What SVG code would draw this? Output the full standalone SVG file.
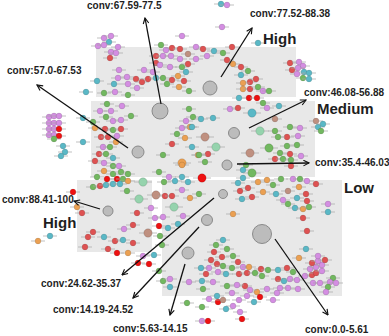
<svg xmlns="http://www.w3.org/2000/svg" xmlns:xlink="http://www.w3.org/1999/xlink" width="389" height="336" viewBox="0 0 389 336">
<style>
.reg{fill:#e8e8e8}
.p{fill:#d48ee2}.r{fill:#de5252}.g{fill:#72b860}.t{fill:#5ab8c6}.o{fill:#eba052}.b{fill:#bf9080}.x{fill:#ee1111}.lg{fill:#95d3ad}
.hub{fill:#bcbcbc;stroke:#8a8a8a;stroke-width:1}
.lab{font-family:"Liberation Sans",Arial,sans-serif;font-weight:bold;font-size:10px;fill:#1e1e1e}
.big{font-family:"Liberation Sans",Arial,sans-serif;font-weight:bold;font-size:15px;fill:#1e1e1e}
.arr{stroke:#111;stroke-width:1.3;fill:none;marker-end:url(#ah)}
</style>
<defs>
<marker id="ah" viewBox="0 0 10 10" refX="9" refY="5" markerWidth="7" markerHeight="7" orient="auto" markerUnits="userSpaceOnUse">
<path d="M1,1 L9,5 L1,9" fill="none" stroke="#111" stroke-width="1.6"/>
</marker>
<g id="d"><line x1="-7" y1="0" x2="7" y2="0" stroke="#a8a8a8" stroke-width="0.7"/><circle r="2.9" stroke="#000" stroke-opacity="0.2" stroke-width="0.6"/></g>
<g id="D"><line x1="-9" y1="0" x2="9" y2="0" stroke="#a8a8a8" stroke-width="0.7"/><circle r="4.2" stroke="#000" stroke-opacity="0.2" stroke-width="0.6"/></g>
</defs>
<rect width="389" height="336" fill="#fff"/>
<g id="regions">
<rect class="reg" x="96" y="47" width="200" height="50"/>
<rect class="reg" x="91" y="101" width="224" height="76"/>
<rect class="reg" x="77" y="180" width="75" height="72"/>
<rect class="reg" x="162" y="180" width="180" height="116"/>
</g>
<g id="nodes-high">
<use href="#d" class="p" x="104" y="38"/><use href="#d" class="p" x="111" y="36"/><use href="#d" class="t" x="109" y="42"/><use href="#d" class="p" x="98" y="46"/><use href="#d" class="p" x="104" y="45"/><use href="#d" class="p" x="118" y="47"/><use href="#d" class="p" x="111" y="52"/><use href="#d" class="p" x="116" y="53"/><use href="#d" class="r" x="110" y="58"/>
<use href="#d" class="p" x="119" y="70"/><use href="#d" class="p" x="118" y="78"/><use href="#d" class="t" x="114" y="84"/><use href="#d" class="p" x="127" y="77"/><use href="#d" class="p" x="128" y="84"/><use href="#d" class="r" x="136" y="79"/><use href="#d" class="p" x="137" y="88"/><use href="#d" class="p" x="115" y="92"/><use href="#d" class="g" x="128" y="95"/><use href="#d" class="g" x="104" y="93"/><use href="#d" class="t" x="97" y="81"/><use href="#d" class="t" x="86" y="92"/>
<use href="#d" class="p" x="144" y="70"/><use href="#d" class="p" x="153" y="72"/><use href="#d" class="r" x="156" y="63"/><use href="#d" class="r" x="156" y="56"/><use href="#d" class="p" x="163" y="56"/><use href="#d" class="p" x="166" y="50"/><use href="#d" class="r" x="172" y="48"/><use href="#d" class="r" x="180" y="49"/><use href="#d" class="p" x="171" y="56"/><use href="#d" class="p" x="180" y="59"/><use href="#d" class="b" x="188" y="54"/><use href="#d" class="g" x="182" y="67"/><use href="#d" class="r" x="188" y="64"/><use href="#d" class="p" x="170" y="67"/><use href="#d" class="p" x="160" y="65"/><use href="#d" class="g" x="161" y="45"/><use href="#d" class="p" x="182" y="36"/>
<use href="#d" class="r" x="142" y="82"/><use href="#d" class="r" x="148" y="79"/><use href="#d" class="t" x="156" y="78"/><use href="#d" class="g" x="163" y="78"/><use href="#d" class="r" x="172" y="80"/><use href="#d" class="o" x="178" y="76"/><use href="#d" class="r" x="184" y="81"/><use href="#d" class="g" x="167" y="84"/><use href="#d" class="o" x="179" y="87"/><use href="#d" class="t" x="186" y="72"/><use href="#d" class="g" x="189" y="91"/>
<use href="#d" class="p" x="196" y="47"/><use href="#d" class="r" x="203" y="49"/><use href="#d" class="t" x="214" y="51"/><use href="#d" class="g" x="223" y="53"/><use href="#d" class="r" x="232" y="47"/><use href="#d" class="p" x="196" y="59"/><use href="#d" class="p" x="207" y="56"/><use href="#d" class="r" x="227" y="60"/><use href="#d" class="o" x="233" y="64"/><use href="#d" class="r" x="241" y="67"/><use href="#d" class="g" x="248" y="71"/><use href="#d" class="t" x="241" y="75"/><use href="#d" class="r" x="250" y="82"/><use href="#d" class="r" x="256" y="79"/><use href="#d" class="o" x="243" y="83"/><use href="#d" class="o" x="243" y="89"/><use href="#d" class="r" x="250" y="89"/><use href="#d" class="g" x="258" y="87"/><use href="#d" class="p" x="263" y="91"/><use href="#d" class="g" x="269" y="91"/><use href="#d" class="t" x="239" y="98"/><use href="#d" class="x" x="249" y="98"/><use href="#d" class="x" x="257" y="98"/><use href="#d" class="g" x="263" y="103"/>
<use href="#d" class="t" x="221" y="4"/><use href="#d" class="p" x="227" y="5"/><use href="#d" class="p" x="222" y="27"/><use href="#d" class="t" x="258" y="43"/>
<use href="#d" class="r" x="290" y="63"/><use href="#d" class="p" x="299" y="62"/><use href="#d" class="p" x="303" y="66"/><use href="#d" class="r" x="292" y="70"/><use href="#d" class="p" x="298" y="68"/><use href="#d" class="t" x="304" y="72"/><use href="#d" class="t" x="309" y="73"/><use href="#d" class="p" x="297" y="74"/><use href="#d" class="g" x="303" y="78"/><use href="#d" class="t" x="309" y="79"/>
</g>
<g id="nodes-medium">
<use href="#d" class="p" x="49" y="117"/><use href="#d" class="p" x="54" y="116"/><use href="#d" class="p" x="59" y="116"/><use href="#d" class="p" x="49" y="123"/><use href="#d" class="p" x="54" y="123"/><use href="#d" class="p" x="59" y="123"/><use href="#d" class="p" x="49" y="129"/><use href="#d" class="p" x="54" y="129"/><use href="#d" class="x" x="59" y="129"/><use href="#d" class="p" x="49" y="135"/><use href="#d" class="p" x="54" y="135"/><use href="#d" class="x" x="59" y="136"/><use href="#d" class="g" x="54" y="139"/><use href="#d" class="t" x="63" y="146"/><use href="#d" class="t" x="65" y="152"/><use href="#d" class="t" x="61" y="156"/>
<use href="#d" class="g" x="107" y="104"/><use href="#d" class="p" x="111" y="111"/><use href="#d" class="p" x="122" y="106"/><use href="#d" class="p" x="100" y="111"/><use href="#d" class="g" x="106" y="117"/><use href="#d" class="p" x="113" y="121"/><use href="#d" class="p" x="121" y="120"/><use href="#d" class="g" x="131" y="116"/><use href="#d" class="g" x="93" y="122"/><use href="#d" class="o" x="95" y="128"/><use href="#d" class="r" x="105" y="129"/><use href="#d" class="g" x="113" y="130"/><use href="#d" class="r" x="121" y="129"/><use href="#d" class="r" x="101" y="137"/><use href="#d" class="r" x="108" y="137"/><use href="#d" class="p" x="117" y="136"/><use href="#d" class="p" x="103" y="147"/><use href="#d" class="g" x="110" y="147"/><use href="#d" class="o" x="116" y="142"/><use href="#d" class="r" x="99" y="154"/><use href="#d" class="g" x="106" y="154"/><use href="#d" class="t" x="113" y="158"/><use href="#d" class="r" x="95" y="161"/><use href="#d" class="p" x="104" y="163"/><use href="#d" class="g" x="113" y="166"/><use href="#d" class="p" x="119" y="166"/><use href="#d" class="t" x="83" y="118"/><use href="#d" class="t" x="83" y="142"/>
<use href="#d" class="g" x="189" y="109"/><use href="#d" class="g" x="193" y="117"/><use href="#d" class="p" x="186" y="121"/><use href="#d" class="p" x="182" y="128"/><use href="#d" class="o" x="190" y="127"/><use href="#d" class="g" x="177" y="134"/><use href="#d" class="o" x="185" y="138"/><use href="#d" class="r" x="172" y="144"/><use href="#d" class="t" x="192" y="147"/><use href="#d" class="g" x="163" y="155"/><use href="#d" class="o" x="198" y="155"/><use href="#D" class="o" x="182" y="163"/><use href="#D" class="b" x="205" y="137"/><use href="#d" class="t" x="201" y="119"/><use href="#d" class="t" x="213" y="118"/><use href="#d" class="r" x="208" y="154"/><use href="#d" class="g" x="205" y="162"/><use href="#D" class="lg" x="216" y="147"/><use href="#d" class="g" x="159" y="172"/>
<use href="#d" class="p" x="230" y="109"/><use href="#d" class="r" x="238" y="108"/><use href="#D" class="t" x="252" y="113"/><use href="#d" class="p" x="267" y="108"/><use href="#d" class="t" x="279" y="106"/><use href="#D" class="lg" x="260" y="131"/><use href="#d" class="g" x="275" y="131"/><use href="#d" class="b" x="275" y="119"/><use href="#d" class="g" x="290" y="127"/><use href="#d" class="p" x="300" y="128"/><use href="#d" class="p" x="298" y="136"/><use href="#d" class="r" x="287" y="137"/><use href="#d" class="g" x="278" y="137"/><use href="#D" class="g" x="269" y="148"/><use href="#d" class="g" x="287" y="146"/><use href="#d" class="g" x="297" y="145"/><use href="#d" class="g" x="280" y="153"/><use href="#d" class="r" x="290" y="154"/><use href="#d" class="p" x="301" y="156"/><use href="#D" class="b" x="250" y="153"/><use href="#d" class="r" x="275" y="159"/><use href="#d" class="g" x="283" y="159"/><use href="#d" class="g" x="291" y="160"/><use href="#d" class="r" x="291" y="166"/><use href="#d" class="g" x="246" y="165"/><use href="#d" class="b" x="316" y="121"/><use href="#d" class="t" x="318" y="127"/><use href="#d" class="t" x="323" y="124"/><use href="#d" class="g" x="321" y="131"/><use href="#d" class="t" x="192" y="127"/>
</g>
<g id="nodes-left-high">
<use href="#d" class="g" x="97" y="177"/><use href="#d" class="o" x="104" y="171"/><use href="#d" class="g" x="113" y="174"/><use href="#d" class="g" x="121" y="172"/><use href="#d" class="g" x="128" y="174"/><use href="#d" class="x" x="107" y="179"/><use href="#d" class="x" x="117" y="179"/><use href="#d" class="g" x="123" y="179"/><use href="#d" class="o" x="128" y="181"/>
<use href="#d" class="g" x="93" y="187"/><use href="#d" class="r" x="100" y="186"/><use href="#d" class="t" x="106" y="185"/><use href="#d" class="t" x="113" y="184"/><use href="#d" class="t" x="120" y="184"/><use href="#d" class="g" x="127" y="191"/><use href="#d" class="x" x="73" y="192"/><use href="#d" class="o" x="77" y="207"/><use href="#d" class="r" x="82" y="213"/>
<use href="#d" class="r" x="93" y="232"/><use href="#d" class="r" x="88" y="237"/><use href="#d" class="t" x="104" y="237"/><use href="#d" class="r" x="115" y="241"/><use href="#d" class="t" x="123" y="240"/><use href="#d" class="r" x="133" y="243"/><use href="#d" class="r" x="85" y="247"/><use href="#d" class="r" x="108" y="249"/><use href="#d" class="x" x="117" y="253"/><use href="#d" class="o" x="128" y="253"/><use href="#d" class="p" x="124" y="229"/><use href="#d" class="r" x="133" y="225"/><use href="#d" class="r" x="137" y="213"/><use href="#D" class="b" x="148" y="233"/><use href="#D" class="lg" x="139" y="199"/><use href="#d" class="p" x="151" y="208"/><use href="#d" class="p" x="155" y="218"/><use href="#d" class="p" x="163" y="217"/><use href="#d" class="x" x="159" y="226"/><use href="#d" class="g" x="160" y="236"/><use href="#d" class="g" x="162" y="245"/><use href="#d" class="p" x="143" y="256"/><use href="#d" class="t" x="154" y="255"/><use href="#d" class="x" x="138" y="263"/><use href="#d" class="x" x="149" y="264"/><use href="#d" class="t" x="50" y="236"/><use href="#d" class="o" x="38" y="241"/>
</g>
<g id="nodes-low">
<use href="#D" class="lg" x="143" y="182"/><use href="#d" class="g" x="164" y="182"/><use href="#d" class="p" x="169" y="177"/><use href="#d" class="t" x="175" y="181"/><use href="#d" class="t" x="182" y="177"/><use href="#d" class="t" x="188" y="182"/><use href="#d" class="o" x="182" y="165"/><use href="#D" class="b" x="156" y="195"/><use href="#d" class="r" x="165" y="196"/><use href="#d" class="r" x="172" y="196"/><use href="#d" class="p" x="182" y="190"/><use href="#d" class="o" x="190" y="198"/><use href="#D" class="lg" x="174" y="207"/><use href="#d" class="p" x="183" y="216"/><use href="#d" class="t" x="178" y="224"/><use href="#d" class="t" x="168" y="228"/><use href="#D" class="x" x="202" y="178"/><use href="#d" class="g" x="199" y="194"/><use href="#d" class="g" x="199" y="155"/>
<use href="#d" class="t" x="243" y="170"/><use href="#D" class="g" x="252" y="173"/><use href="#d" class="t" x="243" y="178"/><use href="#d" class="o" x="258" y="182"/><use href="#d" class="o" x="267" y="180"/><use href="#d" class="g" x="273" y="185"/><use href="#d" class="g" x="281" y="179"/><use href="#d" class="p" x="293" y="179"/><use href="#d" class="g" x="300" y="179"/><use href="#d" class="p" x="307" y="181"/><use href="#d" class="r" x="316" y="184"/><use href="#d" class="t" x="238" y="183"/><use href="#d" class="r" x="248" y="188"/><use href="#d" class="r" x="240" y="191"/><use href="#d" class="o" x="263" y="192"/><use href="#d" class="t" x="276" y="194"/><use href="#d" class="b" x="288" y="191"/><use href="#d" class="o" x="299" y="187"/><use href="#d" class="r" x="306" y="194"/><use href="#d" class="p" x="283" y="200"/><use href="#d" class="g" x="288" y="204"/><use href="#d" class="t" x="295" y="208"/><use href="#d" class="o" x="303" y="209"/><use href="#d" class="g" x="309" y="207"/><use href="#d" class="t" x="297" y="198"/><use href="#d" class="r" x="307" y="201"/><use href="#d" class="p" x="328" y="204"/><use href="#d" class="t" x="328" y="212"/><use href="#d" class="t" x="242" y="199"/><use href="#d" class="r" x="252" y="197"/><use href="#d" class="o" x="233" y="214"/><use href="#d" class="r" x="303" y="218"/><use href="#d" class="r" x="307" y="231"/><use href="#d" class="t" x="306" y="249"/><use href="#d" class="o" x="299" y="258"/>
<use href="#d" class="t" x="223" y="240"/><use href="#d" class="g" x="216" y="245"/><use href="#d" class="g" x="227" y="249"/><use href="#d" class="r" x="214" y="252"/><use href="#d" class="r" x="222" y="257"/><use href="#d" class="g" x="233" y="256"/><use href="#d" class="r" x="211" y="260"/><use href="#d" class="r" x="217" y="264"/><use href="#d" class="g" x="223" y="266"/><use href="#d" class="g" x="232" y="268"/><use href="#d" class="r" x="238" y="262"/><use href="#d" class="p" x="243" y="267"/><use href="#d" class="o" x="249" y="267"/><use href="#d" class="p" x="209" y="268"/><use href="#d" class="t" x="201" y="268"/><use href="#d" class="r" x="206" y="274"/><use href="#d" class="p" x="218" y="272"/><use href="#d" class="t" x="226" y="274"/><use href="#d" class="r" x="239" y="274"/><use href="#d" class="r" x="247" y="273"/><use href="#d" class="g" x="255" y="273"/><use href="#d" class="r" x="261" y="269"/><use href="#d" class="g" x="268" y="270"/><use href="#d" class="t" x="278" y="270"/><use href="#d" class="r" x="287" y="268"/><use href="#d" class="g" x="293" y="272"/><use href="#d" class="g" x="262" y="276"/><use href="#d" class="r" x="278" y="279"/><use href="#d" class="t" x="284" y="281"/><use href="#d" class="p" x="290" y="279"/><use href="#d" class="p" x="297" y="280"/><use href="#d" class="p" x="305" y="276"/><use href="#d" class="r" x="312" y="275"/><use href="#d" class="r" x="316" y="273"/><use href="#d" class="p" x="322" y="271"/><use href="#d" class="p" x="310" y="269"/><use href="#d" class="p" x="316" y="267"/><use href="#d" class="p" x="322" y="265"/><use href="#d" class="r" x="312" y="263"/><use href="#d" class="p" x="318" y="261"/><use href="#d" class="r" x="325" y="260"/><use href="#d" class="p" x="318" y="256"/><use href="#d" class="g" x="333" y="278"/><use href="#d" class="p" x="330" y="282"/><use href="#d" class="p" x="336" y="283"/><use href="#d" class="p" x="313" y="283"/><use href="#d" class="p" x="320" y="283"/><use href="#d" class="g" x="328" y="287"/><use href="#d" class="p" x="326" y="292"/><use href="#d" class="p" x="298" y="289"/><use href="#d" class="p" x="288" y="288"/><use href="#d" class="p" x="280" y="288"/><use href="#d" class="p" x="277" y="293"/><use href="#d" class="p" x="267" y="289"/><use href="#d" class="o" x="257" y="292"/><use href="#d" class="p" x="250" y="290"/><use href="#d" class="r" x="245" y="286"/><use href="#d" class="p" x="237" y="285"/><use href="#d" class="g" x="227" y="286"/><use href="#d" class="p" x="213" y="282"/><use href="#d" class="t" x="202" y="281"/><use href="#d" class="g" x="203" y="289"/><use href="#d" class="p" x="232" y="293"/><use href="#d" class="p" x="247" y="296"/><use href="#d" class="x" x="260" y="297"/>
<use href="#d" class="t" x="217" y="296"/><use href="#d" class="p" x="209" y="299"/><use href="#d" class="x" x="218" y="302"/><use href="#d" class="b" x="223" y="300"/><use href="#d" class="p" x="239" y="300"/><use href="#d" class="t" x="254" y="302"/><use href="#d" class="p" x="273" y="300"/><use href="#d" class="p" x="233" y="306"/><use href="#d" class="t" x="226" y="309"/><use href="#d" class="g" x="202" y="307"/><use href="#d" class="p" x="240" y="312"/><use href="#d" class="p" x="202" y="321"/><use href="#d" class="x" x="208" y="321"/><use href="#d" class="x" x="242" y="319"/>
<use href="#d" class="g" x="159" y="271"/><use href="#d" class="g" x="163" y="281"/><use href="#d" class="p" x="170" y="279"/><use href="#d" class="t" x="170" y="287"/><use href="#d" class="p" x="189" y="282"/><use href="#d" class="g" x="187" y="303"/>
</g>
<g id="hub-67-59"><circle class="hub" cx="160" cy="111" r="8"/></g>
<g id="hub-77-52"><circle class="hub" cx="210" cy="88" r="7"/></g>
<g id="hub-57-0"><circle class="hub" cx="138" cy="152" r="6"/></g>
<g id="hub-46-08"><circle class="hub" cx="234" cy="133" r="5.5"/></g>
<g id="hub-35-4"><circle class="hub" cx="227" cy="165" r="5"/></g>
<g id="hub-88-41"><circle class="hub" cx="108" cy="211" r="5"/></g>
<g id="hub-24-62"><circle class="hub" cx="223" cy="194" r="4.5"/></g>
<g id="hub-14-19"><circle class="hub" cx="207" cy="220" r="5.5"/></g>
<g id="hub-5-63"><circle class="hub" cx="188" cy="253" r="6"/></g>
<g id="hub-0-0"><circle class="hub" cx="262" cy="234" r="9.5"/></g>
<g id="connectors">
<line class="arr" x1="161" y1="104" x2="145" y2="18"/>
<line class="arr" x1="221" y1="77" x2="252" y2="28"/>
<line class="arr" x1="128" y1="148" x2="37" y2="85"/>
<line class="arr" x1="249" y1="128" x2="306" y2="100"/>
<line class="arr" x1="237" y1="164" x2="309" y2="163"/>
<line class="arr" x1="100" y1="209" x2="74" y2="201"/>
<line class="arr" x1="214" y1="198" x2="122" y2="275"/>
<line class="arr" x1="199" y1="227" x2="133" y2="298"/>
<line class="arr" x1="185" y1="264" x2="170" y2="315"/>
<line class="arr" x1="275" y1="239" x2="328" y2="315"/>
</g>
<g id="labels">
<text class="lab" x="87" y="9">conv:67.59-77.5</text>
<text class="lab" x="250" y="17">conv:77.52-88.38</text>
<text class="lab" x="7" y="74">conv:57.0-67.53</text>
<text class="lab" x="304" y="96">conv:46.08-56.88</text>
<text class="lab" x="315" y="166">conv:35.4-46.03</text>
<text class="lab" x="2" y="203">conv:88.41-100</text>
<text class="lab" x="41" y="287">conv:24.62-35.37</text>
<text class="lab" x="53" y="313">conv:14.19-24.52</text>
<text class="lab" x="113" y="332">conv:5.63-14.15</text>
<text class="lab" x="305" y="333">conv:0.0-5.61</text>
<text class="big" x="263" y="44">High</text>
<text class="big" x="317" y="114">Medium</text>
<text class="big" x="344" y="193">Low</text>
<text class="big" x="43" y="228">High</text>
</g>
</svg>
